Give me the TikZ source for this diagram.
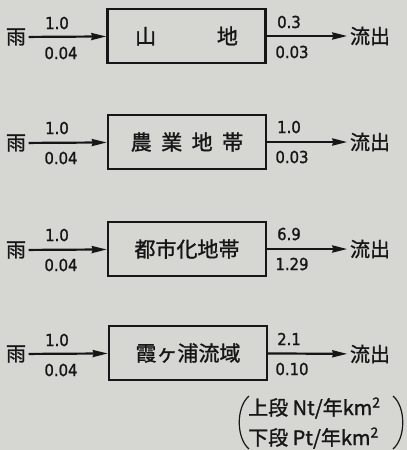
\documentclass[tikz,border=0pt]{standalone}
\usepackage{fontspec}
\setmainfont{Noto Sans CJK JP}
\newfontfamily\cjkm{Noto Sans CJK JP}[FakeBold=1.3]
\newfontfamily\numfont{DejaVu Sans Condensed}[FakeBold=1.2]
\usetikzlibrary{arrows.meta}
\definecolor{paper}{RGB}{214,214,211}
\definecolor{ink}{RGB}{22,22,22}
\begin{document}
\begin{tikzpicture}[x=1pt,y=-1pt,
  proc/.style={draw=ink,line width=2.4pt,minimum width=158pt,minimum height=54pt,inner sep=0pt,font=\cjkm\fontsize{21}{22}\selectfont,text=ink},
  lbl/.style={font=\cjkm\fontsize{20}{22}\selectfont,text=ink,inner sep=2.5pt},
  num/.style={font=\numfont\fontsize{16.5}{17}\selectfont,text=ink,inner sep=0pt},
  flow/.style={draw=ink,line width=2.2pt,-{Stealth[length=15pt,width=7pt,inset=1pt]}},
  leg/.style={font=\cjkm\fontsize{20}{22}\selectfont,text=ink,inner sep=0pt,anchor=west}]
\fill[paper] (0,0) rectangle (407,450);
\useasboundingbox (0,0) rectangle (407,450);
% row 1
\node[proc] (b1) at (186.5,36) {山\hspace{2.9em}地};
\node[lbl] (r1) at (16,37) {雨};
\node[lbl] (o1) at (370,36) {流出};
\draw[flow] (r1) -- (b1);
\draw[flow] (b1) -- (o1);
\node[num] (a1) at (57,23) {1.0};
\node[num] (c1) at (61,53) {0.04};
\node[num] (d1) at (289,22) {0.3};
\node[num] (e1) at (292,52) {0.03};
% row 2
\node[proc] (b2) at (187,142) {農\hspace{0.45em}業\hspace{0.45em}地\hspace{0.45em}帯};
\node[lbl] (r2) at (16,143) {雨};
\node[lbl] (o2) at (370,142) {流出};
\draw[flow] (r2) -- (b2);
\draw[flow] (b2) -- (o2);
\node[num] (a2) at (57,128) {1.0};
\node[num] (c2) at (61,158) {0.04};
\node[num] (d2) at (289,127) {1.0};
\node[num] (e2) at (292,157) {0.03};
% row 3
\node[proc] (b3) at (187,249) {都市化地帯};
\node[lbl] (r3) at (16,250) {雨};
\node[lbl] (o3) at (370,249) {流出};
\draw[flow] (r3) -- (b3);
\draw[flow] (b3) -- (o3);
\node[num] (a3) at (57,235) {1.0};
\node[num] (c3) at (61,265) {0.04};
\node[num] (d3) at (289,234) {6.9};
\node[num] (e3) at (292,264) {1.29};
% row 4
\node[proc] (b4) at (188,353) {霞ヶ浦流域};
\node[lbl] (r4) at (16,354) {雨};
\node[lbl] (o4) at (370,354) {流出};
\draw[flow] (r4) -- (b4);
\draw[flow] (b4) -- (o4);
\node[num] (a4) at (57,340) {1.0};
\node[num] (c4) at (61,370) {0.04};
\node[num] (d4) at (289,339) {2.1};
\node[num] (e4) at (292,369) {0.10};
% legend
\node[leg] (l1) at (248,408) {上段 Nt/年km\textsuperscript{2}};
\node[leg] (l2) at (248,438) {下段 Pt/年km\textsuperscript{2}};
\draw[ink,line width=1.2pt] (249,396) .. controls (236,407) and (236,438) .. (249,449);
\draw[ink,line width=1.2pt] (393,396) .. controls (406,407) and (406,438) .. (393,449);
\end{tikzpicture}
\end{document}
